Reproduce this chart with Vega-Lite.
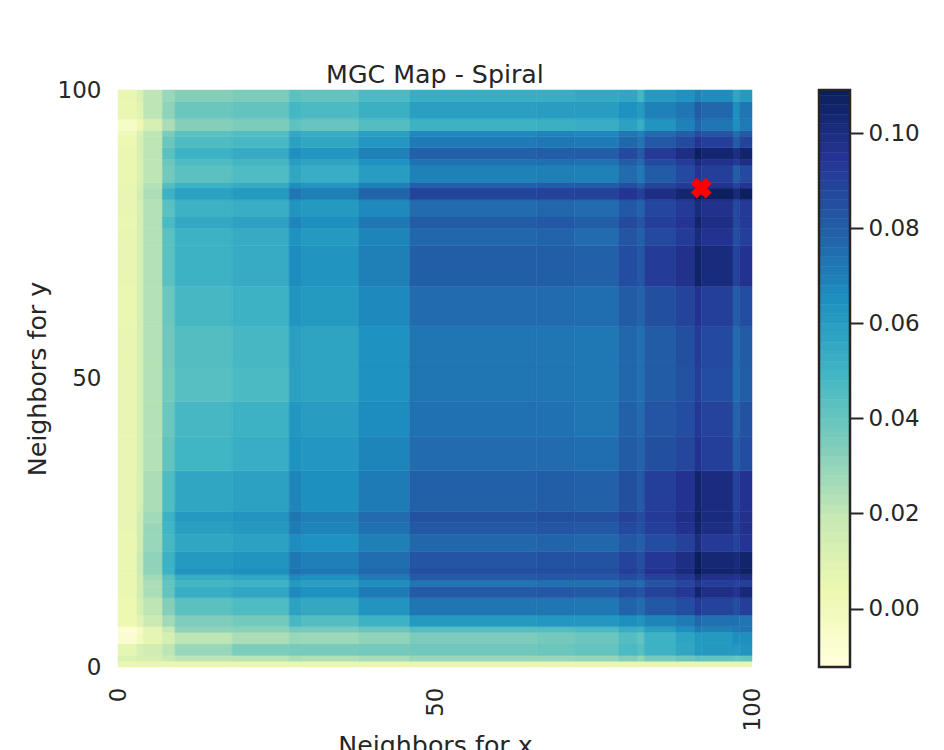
{"$schema":"https://vega.github.io/schema/vega-lite/v6.json","padding":{"left":25,"top":62,"right":0,"bottom":0},"background":"white","config":{"font":"DejaVu Sans","view":{"stroke":null},"axis":{"labelColor":"#262626","titleColor":"#262626","labelFont":"DejaVu Sans","titleFont":"DejaVu Sans"}},"bounds":"flush","spacing":67,"hconcat":[{"width":634,"height":577,"title":{"text":"MGC Map - Spiral","fontSize":25.3,"fontWeight":"normal","color":"#262626","offset":-9},"layer":[{"data":{"values":[
{"x":0,"y":0,"v":0.004},{"x":3,"y":0,"v":0.004},{"x":4,"y":0,"v":0.004},{"x":7,"y":0,"v":0.004},{"x":9,"y":0,"v":0.004},{"x":18,"y":0,"v":0.004},{"x":27,"y":0,"v":0.004},{"x":29,"y":0,"v":0.004},{"x":38,"y":0,"v":0.004},{"x":46,"y":0,"v":0.004},{"x":66,"y":0,"v":0.004},{"x":72,"y":0,"v":0.004},{"x":79,"y":0,"v":0.004},{"x":82,"y":0,"v":0.004},{"x":83,"y":0,"v":0.005},{"x":88,"y":0,"v":0.005},{"x":91,"y":0,"v":0.005},{"x":92,"y":0,"v":0.005},{"x":97,"y":0,"v":0.005},{"x":98,"y":0,"v":0.005},
{"x":0,"y":1,"v":0.01},{"x":3,"y":1,"v":0.012},{"x":4,"y":1,"v":0.012},{"x":7,"y":1,"v":0.017},{"x":9,"y":1,"v":0.02},{"x":18,"y":1,"v":0.021},{"x":27,"y":1,"v":0.024},{"x":29,"y":1,"v":0.023},{"x":38,"y":1,"v":0.025},{"x":46,"y":1,"v":0.028},{"x":66,"y":1,"v":0.028},{"x":72,"y":1,"v":0.029},{"x":79,"y":1,"v":0.032},{"x":82,"y":1,"v":0.029},{"x":83,"y":1,"v":0.035},{"x":88,"y":1,"v":0.038},{"x":91,"y":1,"v":0.041},{"x":92,"y":1,"v":0.04},{"x":97,"y":1,"v":0.038},{"x":98,"y":1,"v":0.04},
{"x":0,"y":2,"v":0.006},{"x":3,"y":2,"v":0.012},{"x":4,"y":2,"v":0.014},{"x":7,"y":2,"v":0.02},{"x":9,"y":2,"v":0.028},{"x":18,"y":2,"v":0.034},{"x":27,"y":2,"v":0.035},{"x":29,"y":2,"v":0.035},{"x":38,"y":2,"v":0.036},{"x":46,"y":2,"v":0.037},{"x":66,"y":2,"v":0.038},{"x":72,"y":2,"v":0.04},{"x":79,"y":2,"v":0.046},{"x":82,"y":2,"v":0.043},{"x":83,"y":2,"v":0.05},{"x":88,"y":2,"v":0.055},{"x":91,"y":2,"v":0.06},{"x":92,"y":2,"v":0.06},{"x":97,"y":2,"v":0.06},{"x":98,"y":2,"v":0.062},
{"x":0,"y":4,"v":-0.009},{"x":3,"y":4,"v":-0.002},{"x":4,"y":4,"v":0.006},{"x":7,"y":4,"v":0.012},{"x":9,"y":4,"v":0.02},{"x":18,"y":4,"v":0.024},{"x":27,"y":4,"v":0.028},{"x":29,"y":4,"v":0.027},{"x":38,"y":4,"v":0.03},{"x":46,"y":4,"v":0.034},{"x":66,"y":4,"v":0.036},{"x":72,"y":4,"v":0.038},{"x":79,"y":4,"v":0.044},{"x":82,"y":4,"v":0.04},{"x":83,"y":4,"v":0.05},{"x":88,"y":4,"v":0.056},{"x":91,"y":4,"v":0.06},{"x":92,"y":4,"v":0.06},{"x":97,"y":4,"v":0.064},{"x":98,"y":4,"v":0.064},
{"x":0,"y":6,"v":-0.011},{"x":3,"y":6,"v":-0.005},{"x":4,"y":6,"v":0.006},{"x":7,"y":6,"v":0.018},{"x":9,"y":6,"v":0.03},{"x":18,"y":6,"v":0.031},{"x":27,"y":6,"v":0.036},{"x":29,"y":6,"v":0.035},{"x":38,"y":6,"v":0.038},{"x":46,"y":6,"v":0.043},{"x":66,"y":6,"v":0.044},{"x":72,"y":6,"v":0.046},{"x":79,"y":6,"v":0.052},{"x":82,"y":6,"v":0.05},{"x":83,"y":6,"v":0.058},{"x":88,"y":6,"v":0.064},{"x":91,"y":6,"v":0.07},{"x":92,"y":6,"v":0.068},{"x":97,"y":6,"v":0.07},{"x":98,"y":6,"v":0.072},
{"x":0,"y":7,"v":0.003},{"x":3,"y":7,"v":0.008},{"x":4,"y":7,"v":0.016},{"x":7,"y":7,"v":0.026},{"x":9,"y":7,"v":0.033},{"x":18,"y":7,"v":0.036},{"x":27,"y":7,"v":0.047},{"x":29,"y":7,"v":0.044},{"x":38,"y":7,"v":0.05},{"x":46,"y":7,"v":0.06},{"x":66,"y":7,"v":0.061},{"x":72,"y":7,"v":0.061},{"x":79,"y":7,"v":0.064},{"x":82,"y":7,"v":0.062},{"x":83,"y":7,"v":0.067},{"x":88,"y":7,"v":0.07},{"x":91,"y":7,"v":0.076},{"x":92,"y":7,"v":0.073},{"x":97,"y":7,"v":0.073},{"x":98,"y":7,"v":0.072},
{"x":0,"y":9,"v":0.003},{"x":3,"y":9,"v":0.012},{"x":4,"y":9,"v":0.02},{"x":7,"y":9,"v":0.032},{"x":9,"y":9,"v":0.042},{"x":18,"y":9,"v":0.045},{"x":27,"y":9,"v":0.057},{"x":29,"y":9,"v":0.054},{"x":38,"y":9,"v":0.062},{"x":46,"y":9,"v":0.072},{"x":66,"y":9,"v":0.072},{"x":72,"y":9,"v":0.071},{"x":79,"y":9,"v":0.077},{"x":82,"y":9,"v":0.074},{"x":83,"y":9,"v":0.081},{"x":88,"y":9,"v":0.085},{"x":91,"y":9,"v":0.092},{"x":92,"y":9,"v":0.088},{"x":97,"y":9,"v":0.084},{"x":98,"y":9,"v":0.09},
{"x":0,"y":12,"v":0.004},{"x":3,"y":12,"v":0.014},{"x":4,"y":12,"v":0.024},{"x":7,"y":12,"v":0.04},{"x":9,"y":12,"v":0.052},{"x":18,"y":12,"v":0.055},{"x":27,"y":12,"v":0.066},{"x":29,"y":12,"v":0.063},{"x":38,"y":12,"v":0.07},{"x":46,"y":12,"v":0.08},{"x":66,"y":12,"v":0.081},{"x":72,"y":12,"v":0.08},{"x":79,"y":12,"v":0.085},{"x":82,"y":12,"v":0.082},{"x":83,"y":12,"v":0.089},{"x":88,"y":12,"v":0.093},{"x":91,"y":12,"v":0.104},{"x":92,"y":12,"v":0.097},{"x":97,"y":12,"v":0.094},{"x":98,"y":12,"v":0.101},
{"x":0,"y":14,"v":0.004},{"x":3,"y":14,"v":0.014},{"x":4,"y":14,"v":0.024},{"x":7,"y":14,"v":0.04},{"x":9,"y":14,"v":0.048},{"x":18,"y":14,"v":0.05},{"x":27,"y":14,"v":0.06},{"x":29,"y":14,"v":0.058},{"x":38,"y":14,"v":0.064},{"x":46,"y":14,"v":0.072},{"x":66,"y":14,"v":0.073},{"x":72,"y":14,"v":0.073},{"x":79,"y":14,"v":0.077},{"x":82,"y":14,"v":0.074},{"x":83,"y":14,"v":0.082},{"x":88,"y":14,"v":0.087},{"x":91,"y":14,"v":0.094},{"x":92,"y":14,"v":0.09},{"x":97,"y":14,"v":0.088},{"x":98,"y":14,"v":0.09},
{"x":0,"y":15,"v":0.004},{"x":3,"y":15,"v":0.014},{"x":4,"y":15,"v":0.026},{"x":7,"y":15,"v":0.042},{"x":9,"y":15,"v":0.052},{"x":18,"y":15,"v":0.055},{"x":27,"y":15,"v":0.066},{"x":29,"y":15,"v":0.063},{"x":38,"y":15,"v":0.07},{"x":46,"y":15,"v":0.08},{"x":66,"y":15,"v":0.081},{"x":72,"y":15,"v":0.081},{"x":79,"y":15,"v":0.085},{"x":82,"y":15,"v":0.082},{"x":83,"y":15,"v":0.089},{"x":88,"y":15,"v":0.093},{"x":91,"y":15,"v":0.102},{"x":92,"y":15,"v":0.096},{"x":97,"y":15,"v":0.094},{"x":98,"y":15,"v":0.098},
{"x":0,"y":16,"v":0.004},{"x":3,"y":16,"v":0.016},{"x":4,"y":16,"v":0.03},{"x":7,"y":16,"v":0.05},{"x":9,"y":16,"v":0.062},{"x":18,"y":16,"v":0.064},{"x":27,"y":16,"v":0.073},{"x":29,"y":16,"v":0.071},{"x":38,"y":16,"v":0.076},{"x":46,"y":16,"v":0.084},{"x":66,"y":16,"v":0.085},{"x":72,"y":16,"v":0.085},{"x":79,"y":16,"v":0.09},{"x":82,"y":16,"v":0.086},{"x":83,"y":16,"v":0.095},{"x":88,"y":16,"v":0.1},{"x":91,"y":16,"v":0.11},{"x":92,"y":16,"v":0.104},{"x":97,"y":16,"v":0.102},{"x":98,"y":16,"v":0.106},
{"x":0,"y":17,"v":0.004},{"x":3,"y":17,"v":0.016},{"x":4,"y":17,"v":0.03},{"x":7,"y":17,"v":0.05},{"x":9,"y":17,"v":0.06},{"x":18,"y":17,"v":0.062},{"x":27,"y":17,"v":0.071},{"x":29,"y":17,"v":0.069},{"x":38,"y":17,"v":0.074},{"x":46,"y":17,"v":0.082},{"x":66,"y":17,"v":0.083},{"x":72,"y":17,"v":0.083},{"x":79,"y":17,"v":0.088},{"x":82,"y":17,"v":0.084},{"x":83,"y":17,"v":0.093},{"x":88,"y":17,"v":0.098},{"x":91,"y":17,"v":0.108},{"x":92,"y":17,"v":0.102},{"x":97,"y":17,"v":0.1},{"x":98,"y":17,"v":0.104},
{"x":0,"y":20,"v":0.004},{"x":3,"y":20,"v":0.014},{"x":4,"y":20,"v":0.028},{"x":7,"y":20,"v":0.047},{"x":9,"y":20,"v":0.055},{"x":18,"y":20,"v":0.057},{"x":27,"y":20,"v":0.065},{"x":29,"y":20,"v":0.063},{"x":38,"y":20,"v":0.069},{"x":46,"y":20,"v":0.076},{"x":66,"y":20,"v":0.077},{"x":72,"y":20,"v":0.076},{"x":79,"y":20,"v":0.081},{"x":82,"y":20,"v":0.078},{"x":83,"y":20,"v":0.085},{"x":88,"y":20,"v":0.089},{"x":91,"y":20,"v":0.099},{"x":92,"y":20,"v":0.092},{"x":97,"y":20,"v":0.088},{"x":98,"y":20,"v":0.094},
{"x":0,"y":23,"v":0.005},{"x":3,"y":23,"v":0.014},{"x":4,"y":23,"v":0.028},{"x":7,"y":23,"v":0.049},{"x":9,"y":23,"v":0.058},{"x":18,"y":23,"v":0.06},{"x":27,"y":23,"v":0.07},{"x":29,"y":23,"v":0.067},{"x":38,"y":23,"v":0.073},{"x":46,"y":23,"v":0.081},{"x":66,"y":23,"v":0.082},{"x":72,"y":23,"v":0.081},{"x":79,"y":23,"v":0.086},{"x":82,"y":23,"v":0.083},{"x":83,"y":23,"v":0.09},{"x":88,"y":23,"v":0.095},{"x":91,"y":23,"v":0.104},{"x":92,"y":23,"v":0.098},{"x":97,"y":23,"v":0.09},{"x":98,"y":23,"v":0.096},
{"x":0,"y":25,"v":0.005},{"x":3,"y":25,"v":0.014},{"x":4,"y":25,"v":0.026},{"x":7,"y":25,"v":0.05},{"x":9,"y":25,"v":0.06},{"x":18,"y":25,"v":0.062},{"x":27,"y":25,"v":0.072},{"x":29,"y":25,"v":0.069},{"x":38,"y":25,"v":0.075},{"x":46,"y":25,"v":0.083},{"x":66,"y":25,"v":0.084},{"x":72,"y":25,"v":0.084},{"x":79,"y":25,"v":0.089},{"x":82,"y":25,"v":0.085},{"x":83,"y":25,"v":0.092},{"x":88,"y":25,"v":0.097},{"x":91,"y":25,"v":0.106},{"x":92,"y":25,"v":0.1},{"x":97,"y":25,"v":0.09},{"x":98,"y":25,"v":0.096},
{"x":0,"y":27,"v":0.005},{"x":3,"y":27,"v":0.012},{"x":4,"y":27,"v":0.024},{"x":7,"y":27,"v":0.045},{"x":9,"y":27,"v":0.055},{"x":18,"y":27,"v":0.057},{"x":27,"y":27,"v":0.067},{"x":29,"y":27,"v":0.064},{"x":38,"y":27,"v":0.07},{"x":46,"y":27,"v":0.078},{"x":66,"y":27,"v":0.079},{"x":72,"y":27,"v":0.078},{"x":79,"y":27,"v":0.084},{"x":82,"y":27,"v":0.08},{"x":83,"y":27,"v":0.09},{"x":88,"y":27,"v":0.095},{"x":91,"y":27,"v":0.104},{"x":92,"y":27,"v":0.099},{"x":97,"y":27,"v":0.088},{"x":98,"y":27,"v":0.095},
{"x":0,"y":34,"v":0.005},{"x":3,"y":34,"v":0.012},{"x":4,"y":34,"v":0.022},{"x":7,"y":34,"v":0.04},{"x":9,"y":34,"v":0.049},{"x":18,"y":34,"v":0.052},{"x":27,"y":34,"v":0.063},{"x":29,"y":34,"v":0.061},{"x":38,"y":34,"v":0.067},{"x":46,"y":34,"v":0.075},{"x":66,"y":34,"v":0.075},{"x":72,"y":34,"v":0.074},{"x":79,"y":34,"v":0.08},{"x":82,"y":34,"v":0.077},{"x":83,"y":34,"v":0.084},{"x":88,"y":34,"v":0.087},{"x":91,"y":34,"v":0.095},{"x":92,"y":34,"v":0.09},{"x":97,"y":34,"v":0.079},{"x":98,"y":34,"v":0.085},
{"x":0,"y":40,"v":0.005},{"x":3,"y":40,"v":0.012},{"x":4,"y":40,"v":0.022},{"x":7,"y":40,"v":0.038},{"x":9,"y":40,"v":0.047},{"x":18,"y":40,"v":0.05},{"x":27,"y":40,"v":0.061},{"x":29,"y":40,"v":0.059},{"x":38,"y":40,"v":0.065},{"x":46,"y":40,"v":0.073},{"x":66,"y":40,"v":0.073},{"x":72,"y":40,"v":0.072},{"x":79,"y":40,"v":0.078},{"x":82,"y":40,"v":0.075},{"x":83,"y":40,"v":0.082},{"x":88,"y":40,"v":0.085},{"x":91,"y":40,"v":0.093},{"x":92,"y":40,"v":0.088},{"x":97,"y":40,"v":0.077},{"x":98,"y":40,"v":0.083},
{"x":0,"y":46,"v":0.005},{"x":3,"y":46,"v":0.012},{"x":4,"y":46,"v":0.022},{"x":7,"y":46,"v":0.036},{"x":9,"y":46,"v":0.043},{"x":18,"y":46,"v":0.046},{"x":27,"y":46,"v":0.058},{"x":29,"y":46,"v":0.056},{"x":38,"y":46,"v":0.063},{"x":46,"y":46,"v":0.072},{"x":66,"y":46,"v":0.072},{"x":72,"y":46,"v":0.071},{"x":79,"y":46,"v":0.076},{"x":82,"y":46,"v":0.073},{"x":83,"y":46,"v":0.08},{"x":88,"y":46,"v":0.083},{"x":91,"y":46,"v":0.09},{"x":92,"y":46,"v":0.085},{"x":97,"y":46,"v":0.074},{"x":98,"y":46,"v":0.079},
{"x":0,"y":52,"v":0.005},{"x":3,"y":52,"v":0.012},{"x":4,"y":52,"v":0.022},{"x":7,"y":52,"v":0.037},{"x":9,"y":52,"v":0.044},{"x":18,"y":52,"v":0.047},{"x":27,"y":52,"v":0.058},{"x":29,"y":52,"v":0.056},{"x":38,"y":52,"v":0.063},{"x":46,"y":52,"v":0.072},{"x":66,"y":52,"v":0.072},{"x":72,"y":52,"v":0.071},{"x":79,"y":52,"v":0.076},{"x":82,"y":52,"v":0.073},{"x":83,"y":52,"v":0.08},{"x":88,"y":52,"v":0.084},{"x":91,"y":52,"v":0.091},{"x":92,"y":52,"v":0.086},{"x":97,"y":52,"v":0.075},{"x":98,"y":52,"v":0.08},
{"x":0,"y":59,"v":0.004},{"x":3,"y":59,"v":0.012},{"x":4,"y":59,"v":0.022},{"x":7,"y":59,"v":0.038},{"x":9,"y":59,"v":0.047},{"x":18,"y":59,"v":0.05},{"x":27,"y":59,"v":0.062},{"x":29,"y":59,"v":0.06},{"x":38,"y":59,"v":0.066},{"x":46,"y":59,"v":0.075},{"x":66,"y":59,"v":0.075},{"x":72,"y":59,"v":0.074},{"x":79,"y":59,"v":0.08},{"x":82,"y":59,"v":0.077},{"x":83,"y":59,"v":0.084},{"x":88,"y":59,"v":0.088},{"x":91,"y":59,"v":0.095},{"x":92,"y":59,"v":0.09},{"x":97,"y":59,"v":0.079},{"x":98,"y":59,"v":0.085},
{"x":0,"y":66,"v":0.005},{"x":3,"y":66,"v":0.012},{"x":4,"y":66,"v":0.022},{"x":7,"y":66,"v":0.042},{"x":9,"y":66,"v":0.05},{"x":18,"y":66,"v":0.053},{"x":27,"y":66,"v":0.065},{"x":29,"y":66,"v":0.062},{"x":38,"y":66,"v":0.069},{"x":46,"y":66,"v":0.079},{"x":66,"y":66,"v":0.079},{"x":72,"y":66,"v":0.078},{"x":79,"y":66,"v":0.085},{"x":82,"y":66,"v":0.081},{"x":83,"y":66,"v":0.091},{"x":88,"y":66,"v":0.096},{"x":91,"y":66,"v":0.105},{"x":92,"y":66,"v":0.1},{"x":97,"y":66,"v":0.088},{"x":98,"y":66,"v":0.095},
{"x":0,"y":73,"v":0.005},{"x":3,"y":73,"v":0.012},{"x":4,"y":73,"v":0.022},{"x":7,"y":73,"v":0.042},{"x":9,"y":73,"v":0.05},{"x":18,"y":73,"v":0.053},{"x":27,"y":73,"v":0.063},{"x":29,"y":73,"v":0.06},{"x":38,"y":73,"v":0.067},{"x":46,"y":73,"v":0.076},{"x":66,"y":73,"v":0.077},{"x":72,"y":73,"v":0.075},{"x":79,"y":73,"v":0.082},{"x":82,"y":73,"v":0.078},{"x":83,"y":73,"v":0.086},{"x":88,"y":73,"v":0.091},{"x":91,"y":73,"v":0.1},{"x":92,"y":73,"v":0.095},{"x":97,"y":73,"v":0.084},{"x":98,"y":73,"v":0.09},
{"x":0,"y":76,"v":0.004},{"x":3,"y":76,"v":0.012},{"x":4,"y":76,"v":0.022},{"x":7,"y":76,"v":0.046},{"x":9,"y":76,"v":0.054},{"x":18,"y":76,"v":0.057},{"x":27,"y":76,"v":0.067},{"x":29,"y":76,"v":0.064},{"x":38,"y":76,"v":0.071},{"x":46,"y":76,"v":0.08},{"x":66,"y":76,"v":0.081},{"x":72,"y":76,"v":0.079},{"x":79,"y":76,"v":0.086},{"x":82,"y":76,"v":0.082},{"x":83,"y":76,"v":0.09},{"x":88,"y":76,"v":0.094},{"x":91,"y":76,"v":0.104},{"x":92,"y":76,"v":0.098},{"x":97,"y":76,"v":0.086},{"x":98,"y":76,"v":0.092},
{"x":0,"y":78,"v":0.005},{"x":3,"y":78,"v":0.012},{"x":4,"y":78,"v":0.022},{"x":7,"y":78,"v":0.042},{"x":9,"y":78,"v":0.05},{"x":18,"y":78,"v":0.052},{"x":27,"y":78,"v":0.062},{"x":29,"y":78,"v":0.06},{"x":38,"y":78,"v":0.066},{"x":46,"y":78,"v":0.075},{"x":66,"y":78,"v":0.076},{"x":72,"y":78,"v":0.075},{"x":79,"y":78,"v":0.081},{"x":82,"y":78,"v":0.077},{"x":83,"y":78,"v":0.087},{"x":88,"y":78,"v":0.092},{"x":91,"y":78,"v":0.1},{"x":92,"y":78,"v":0.096},{"x":97,"y":78,"v":0.086},{"x":98,"y":78,"v":0.092},
{"x":0,"y":81,"v":0.005},{"x":3,"y":81,"v":0.014},{"x":4,"y":81,"v":0.024},{"x":7,"y":81,"v":0.05},{"x":9,"y":81,"v":0.057},{"x":18,"y":81,"v":0.06},{"x":27,"y":81,"v":0.072},{"x":29,"y":81,"v":0.069},{"x":38,"y":81,"v":0.077},{"x":46,"y":81,"v":0.088},{"x":66,"y":81,"v":0.089},{"x":72,"y":81,"v":0.089},{"x":79,"y":81,"v":0.094},{"x":82,"y":81,"v":0.09},{"x":83,"y":81,"v":0.098},{"x":88,"y":81,"v":0.103},{"x":91,"y":81,"v":0.111},{"x":92,"y":81,"v":0.107},{"x":97,"y":81,"v":0.1},{"x":98,"y":81,"v":0.107},
{"x":0,"y":83,"v":0.005},{"x":3,"y":83,"v":0.012},{"x":4,"y":83,"v":0.022},{"x":7,"y":83,"v":0.044},{"x":9,"y":83,"v":0.05},{"x":18,"y":83,"v":0.053},{"x":27,"y":83,"v":0.064},{"x":29,"y":83,"v":0.061},{"x":38,"y":83,"v":0.068},{"x":46,"y":83,"v":0.078},{"x":66,"y":83,"v":0.079},{"x":72,"y":83,"v":0.079},{"x":79,"y":83,"v":0.084},{"x":82,"y":83,"v":0.08},{"x":83,"y":83,"v":0.088},{"x":88,"y":83,"v":0.092},{"x":91,"y":83,"v":0.1},{"x":92,"y":83,"v":0.096},{"x":97,"y":83,"v":0.088},{"x":98,"y":83,"v":0.094},
{"x":0,"y":84,"v":0.004},{"x":3,"y":84,"v":0.01},{"x":4,"y":84,"v":0.02},{"x":7,"y":84,"v":0.036},{"x":9,"y":84,"v":0.042},{"x":18,"y":84,"v":0.045},{"x":27,"y":84,"v":0.055},{"x":29,"y":84,"v":0.052},{"x":38,"y":84,"v":0.059},{"x":46,"y":84,"v":0.068},{"x":66,"y":84,"v":0.069},{"x":72,"y":84,"v":0.068},{"x":79,"y":84,"v":0.075},{"x":82,"y":84,"v":0.07},{"x":83,"y":84,"v":0.08},{"x":88,"y":84,"v":0.086},{"x":91,"y":84,"v":0.094},{"x":92,"y":84,"v":0.09},{"x":97,"y":84,"v":0.079},{"x":98,"y":84,"v":0.086},
{"x":0,"y":87,"v":0.004},{"x":3,"y":87,"v":0.01},{"x":4,"y":87,"v":0.02},{"x":7,"y":87,"v":0.038},{"x":9,"y":87,"v":0.045},{"x":18,"y":87,"v":0.048},{"x":27,"y":87,"v":0.059},{"x":29,"y":87,"v":0.056},{"x":38,"y":87,"v":0.063},{"x":46,"y":87,"v":0.073},{"x":66,"y":87,"v":0.074},{"x":72,"y":87,"v":0.073},{"x":79,"y":87,"v":0.08},{"x":82,"y":87,"v":0.075},{"x":83,"y":87,"v":0.086},{"x":88,"y":87,"v":0.091},{"x":91,"y":87,"v":0.1},{"x":92,"y":87,"v":0.096},{"x":97,"y":87,"v":0.092},{"x":98,"y":87,"v":0.098},
{"x":0,"y":88,"v":0.004},{"x":3,"y":88,"v":0.012},{"x":4,"y":88,"v":0.02},{"x":7,"y":88,"v":0.042},{"x":9,"y":88,"v":0.05},{"x":18,"y":88,"v":0.053},{"x":27,"y":88,"v":0.064},{"x":29,"y":88,"v":0.061},{"x":38,"y":88,"v":0.068},{"x":46,"y":88,"v":0.078},{"x":66,"y":88,"v":0.079},{"x":72,"y":88,"v":0.079},{"x":79,"y":88,"v":0.086},{"x":82,"y":88,"v":0.08},{"x":83,"y":88,"v":0.092},{"x":88,"y":88,"v":0.098},{"x":91,"y":88,"v":0.107},{"x":92,"y":88,"v":0.103},{"x":97,"y":88,"v":0.098},{"x":98,"y":88,"v":0.104},
{"x":0,"y":90,"v":0.003},{"x":3,"y":90,"v":0.012},{"x":4,"y":90,"v":0.02},{"x":7,"y":90,"v":0.038},{"x":9,"y":90,"v":0.045},{"x":18,"y":90,"v":0.047},{"x":27,"y":90,"v":0.058},{"x":29,"y":90,"v":0.055},{"x":38,"y":90,"v":0.061},{"x":46,"y":90,"v":0.07},{"x":66,"y":90,"v":0.071},{"x":72,"y":90,"v":0.07},{"x":79,"y":90,"v":0.076},{"x":82,"y":90,"v":0.072},{"x":83,"y":90,"v":0.081},{"x":88,"y":90,"v":0.086},{"x":91,"y":90,"v":0.094},{"x":92,"y":90,"v":0.09},{"x":97,"y":90,"v":0.08},{"x":98,"y":90,"v":0.088},
{"x":0,"y":92,"v":0.0},{"x":3,"y":92,"v":0.01},{"x":4,"y":92,"v":0.02},{"x":7,"y":92,"v":0.034},{"x":9,"y":92,"v":0.042},{"x":18,"y":92,"v":0.044},{"x":27,"y":92,"v":0.054},{"x":29,"y":92,"v":0.052},{"x":38,"y":92,"v":0.058},{"x":46,"y":92,"v":0.066},{"x":66,"y":92,"v":0.067},{"x":72,"y":92,"v":0.066},{"x":79,"y":92,"v":0.071},{"x":82,"y":92,"v":0.068},{"x":83,"y":92,"v":0.075},{"x":88,"y":92,"v":0.079},{"x":91,"y":92,"v":0.085},{"x":92,"y":92,"v":0.082},{"x":97,"y":92,"v":0.074},{"x":98,"y":92,"v":0.08},
{"x":0,"y":93,"v":-0.005},{"x":3,"y":93,"v":0.002},{"x":4,"y":93,"v":0.012},{"x":7,"y":93,"v":0.024},{"x":9,"y":93,"v":0.032},{"x":18,"y":93,"v":0.034},{"x":27,"y":93,"v":0.041},{"x":29,"y":93,"v":0.039},{"x":38,"y":93,"v":0.044},{"x":46,"y":93,"v":0.05},{"x":66,"y":93,"v":0.051},{"x":72,"y":93,"v":0.052},{"x":79,"y":93,"v":0.057},{"x":82,"y":93,"v":0.052},{"x":83,"y":93,"v":0.062},{"x":88,"y":93,"v":0.068},{"x":91,"y":93,"v":0.076},{"x":92,"y":93,"v":0.072},{"x":97,"y":93,"v":0.064},{"x":98,"y":93,"v":0.07},
{"x":0,"y":95,"v":0.004},{"x":3,"y":95,"v":0.008},{"x":4,"y":95,"v":0.02},{"x":7,"y":95,"v":0.03},{"x":9,"y":95,"v":0.038},{"x":18,"y":95,"v":0.04},{"x":27,"y":95,"v":0.048},{"x":29,"y":95,"v":0.046},{"x":38,"y":95,"v":0.051},{"x":46,"y":95,"v":0.058},{"x":66,"y":95,"v":0.059},{"x":72,"y":95,"v":0.059},{"x":79,"y":95,"v":0.063},{"x":82,"y":95,"v":0.06},{"x":83,"y":95,"v":0.068},{"x":88,"y":95,"v":0.072},{"x":91,"y":95,"v":0.08},{"x":92,"y":95,"v":0.076},{"x":97,"y":95,"v":0.064},{"x":98,"y":95,"v":0.072},
{"x":0,"y":98,"v":0.005},{"x":3,"y":98,"v":0.01},{"x":4,"y":98,"v":0.02},{"x":7,"y":98,"v":0.028},{"x":9,"y":98,"v":0.032},{"x":18,"y":98,"v":0.034},{"x":27,"y":98,"v":0.042},{"x":29,"y":98,"v":0.04},{"x":38,"y":98,"v":0.046},{"x":46,"y":98,"v":0.052},{"x":66,"y":98,"v":0.052},{"x":72,"y":98,"v":0.054},{"x":79,"y":98,"v":0.055},{"x":82,"y":98,"v":0.048},{"x":83,"y":98,"v":0.06},{"x":88,"y":98,"v":0.063},{"x":91,"y":98,"v":0.068},{"x":92,"y":98,"v":0.065},{"x":97,"y":98,"v":0.055},{"x":98,"y":98,"v":0.06}
]},"transform":[{"lookup":"x","from":{"data":{"values":[{"x":0,"x2":3},{"x":3,"x2":4},{"x":4,"x2":7},{"x":7,"x2":9},{"x":9,"x2":18},{"x":18,"x2":27},{"x":27,"x2":29},{"x":29,"x2":38},{"x":38,"x2":46},{"x":46,"x2":66},{"x":66,"x2":72},{"x":72,"x2":79},{"x":79,"x2":82},{"x":82,"x2":83},{"x":83,"x2":88},{"x":88,"x2":91},{"x":91,"x2":92},{"x":92,"x2":97},{"x":97,"x2":98},{"x":98,"x2":100}]},"key":"x","fields":["x2"]}},{"lookup":"y","from":{"data":{"values":[{"y":0,"y2":1},{"y":1,"y2":2},{"y":2,"y2":4},{"y":4,"y2":6},{"y":6,"y2":7},{"y":7,"y2":9},{"y":9,"y2":12},{"y":12,"y2":14},{"y":14,"y2":15},{"y":15,"y2":16},{"y":16,"y2":17},{"y":17,"y2":20},{"y":20,"y2":23},{"y":23,"y2":25},{"y":25,"y2":27},{"y":27,"y2":34},{"y":34,"y2":40},{"y":40,"y2":46},{"y":46,"y2":52},{"y":52,"y2":59},{"y":59,"y2":66},{"y":66,"y2":73},{"y":73,"y2":76},{"y":76,"y2":78},{"y":78,"y2":81},{"y":81,"y2":83},{"y":83,"y2":84},{"y":84,"y2":87},{"y":87,"y2":88},{"y":88,"y2":90},{"y":90,"y2":92},{"y":92,"y2":93},{"y":93,"y2":95},{"y":95,"y2":98},{"y":98,"y2":100}]},"key":"y","fields":["y2"]}}],"mark":{"type":"rect","strokeWidth":0.5},"encoding":{"x":{"field":"x","type":"quantitative","scale":{"domain":[0,100],"nice":false},"axis":{"values":[0,50,100],"ticks":false,"domain":false,"grid":false,"labelAngle":-90,"labelFontSize":23,"labelPadding":20,"labelBaseline":"middle","labelAlign":"right","title":"Neighbors for x","titleFontSize":25.3,"titleFontWeight":"normal","titlePadding":3,"labelOverlap":false,"labelFlush":false},"title":"Neighbors for x"},"x2":{"field":"x2"},"y":{"field":"y","type":"quantitative","scale":{"domain":[0,100],"nice":false},"axis":{"values":[0,50,100],"ticks":false,"domain":false,"grid":false,"labelFontSize":23,"labelPadding":17,"title":"Neighbors for y","titleFontSize":25.3,"titleFontWeight":"normal","titlePadding":7,"labelOverlap":false,"labelFlush":false},"title":"Neighbors for y"},"y2":{"field":"y2"},"color":{"field":"v","type":"quantitative","legend":null,"scale":{"domain":[-0.0123,0.002875,0.01805,0.033225,0.0484,0.063575,0.07875,0.093925,0.1091],"range":["#ffffd9","#edf8b1","#c7e9b4","#7fcdbb","#41b6c4","#1d91c0","#225ea8","#253494","#081d58"],"interpolate":"rgb"}},"stroke":{"field":"v","type":"quantitative","legend":null,"scale":{"domain":[-0.0123,0.002875,0.01805,0.033225,0.0484,0.063575,0.07875,0.093925,0.1091],"range":["#ffffd9","#edf8b1","#c7e9b4","#7fcdbb","#41b6c4","#1d91c0","#225ea8","#253494","#081d58"],"interpolate":"rgb"}}}},{"data":{"values":[{"x":92,"y":83}]},"mark":{"type":"point","shape":"cross","angle":45,"filled":true,"color":"#ff0000","size":441,"opacity":1},"encoding":{"x":{"field":"x","type":"quantitative"},"y":{"field":"y","type":"quantitative"}}}]},{"width":31,"height":577,"layer":[{"data":{"values":[{"v":-0.0123,"v2":-0.01},{"v":-0.01,"v2":-0.008},{"v":-0.008,"v2":-0.006},{"v":-0.006,"v2":-0.004},{"v":-0.004,"v2":-0.002},{"v":-0.002,"v2":0},{"v":0,"v2":0.002},{"v":0.002,"v2":0.004},{"v":0.004,"v2":0.006},{"v":0.006,"v2":0.008},{"v":0.008,"v2":0.01},{"v":0.01,"v2":0.012},{"v":0.012,"v2":0.014},{"v":0.014,"v2":0.016},{"v":0.016,"v2":0.018},{"v":0.018,"v2":0.02},{"v":0.02,"v2":0.022},{"v":0.022,"v2":0.024},{"v":0.024,"v2":0.026},{"v":0.026,"v2":0.028},{"v":0.028,"v2":0.03},{"v":0.03,"v2":0.032},{"v":0.032,"v2":0.034},{"v":0.034,"v2":0.036},{"v":0.036,"v2":0.038},{"v":0.038,"v2":0.04},{"v":0.04,"v2":0.042},{"v":0.042,"v2":0.044},{"v":0.044,"v2":0.046},{"v":0.046,"v2":0.048},{"v":0.048,"v2":0.05},{"v":0.05,"v2":0.052},{"v":0.052,"v2":0.054},{"v":0.054,"v2":0.056},{"v":0.056,"v2":0.058},{"v":0.058,"v2":0.06},{"v":0.06,"v2":0.062},{"v":0.062,"v2":0.064},{"v":0.064,"v2":0.066},{"v":0.066,"v2":0.068},{"v":0.068,"v2":0.07},{"v":0.07,"v2":0.072},{"v":0.072,"v2":0.074},{"v":0.074,"v2":0.076},{"v":0.076,"v2":0.078},{"v":0.078,"v2":0.08},{"v":0.08,"v2":0.082},{"v":0.082,"v2":0.084},{"v":0.084,"v2":0.086},{"v":0.086,"v2":0.088},{"v":0.088,"v2":0.09},{"v":0.09,"v2":0.092},{"v":0.092,"v2":0.094},{"v":0.094,"v2":0.096},{"v":0.096,"v2":0.098},{"v":0.098,"v2":0.1},{"v":0.1,"v2":0.102},{"v":0.102,"v2":0.104},{"v":0.104,"v2":0.106},{"v":0.106,"v2":0.108},{"v":0.108,"v2":0.1091}]},"mark":{"type":"rect","strokeWidth":0.5},"encoding":{"y":{"field":"v","type":"quantitative","scale":{"domain":[-0.0123,0.1091],"nice":false,"zero":false},"axis":{"orient":"right","values":[0,0.02,0.04,0.06,0.08,0.1],"format":".2f","title":null,"grid":false,"domain":false,"tickSize":13,"tickWidth":2,"tickColor":"#262626","labelFontSize":23,"labelPadding":5,"labelOverlap":false,"labelFlush":false}},"y2":{"field":"v2"},"color":{"field":"v","type":"quantitative","legend":null,"scale":{"domain":[-0.0123,0.002875,0.01805,0.033225,0.0484,0.063575,0.07875,0.093925,0.1091],"range":["#ffffd9","#edf8b1","#c7e9b4","#7fcdbb","#41b6c4","#1d91c0","#225ea8","#253494","#081d58"],"interpolate":"rgb"}},"stroke":{"field":"v","type":"quantitative","legend":null,"scale":{"domain":[-0.0123,0.002875,0.01805,0.033225,0.0484,0.063575,0.07875,0.093925,0.1091],"range":["#ffffd9","#edf8b1","#c7e9b4","#7fcdbb","#41b6c4","#1d91c0","#225ea8","#253494","#081d58"],"interpolate":"rgb"}}}},{"data":{"values":[{"v":-0.0123,"v2":0.1091}]},"mark":{"type":"rect","fillOpacity":0,"stroke":"#262626","strokeWidth":2.5,"clip":false},"encoding":{"y":{"field":"v","type":"quantitative"},"y2":{"field":"v2"}}}]}]}
